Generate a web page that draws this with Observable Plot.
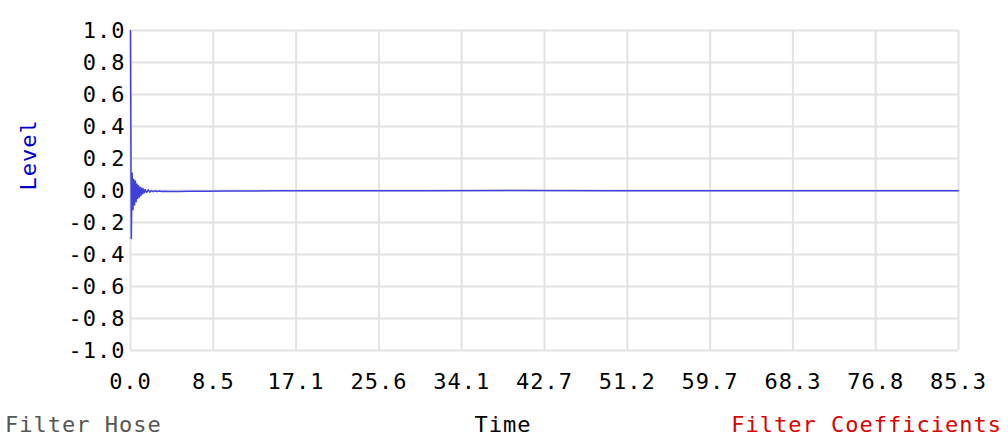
<!DOCTYPE html>
<html>
<head>
<meta charset="utf-8">
<script src="https://cdn.jsdelivr.net/npm/d3@7"></script>
<script src="https://cdn.jsdelivr.net/npm/@observablehq/plot@0.6"></script>
<style>
  html, body { margin: 0; padding: 0; background: #fff; }
  #wrap { position: relative; width: 1008px; height: 440px; }
  .cap { position: absolute; top: 412px; font-family: "DejaVu Sans Mono", monospace; font-size: 22px; letter-spacing: 1px; white-space: nowrap; }
</style>
</head>
<body>
<div id="wrap">
  <div id="chart"></div>
  <span class="cap" style="left:5px;color:#555555">Filter Hose</span>
  <span class="cap" style="left:503px;transform:translateX(-50%);color:#000">Time</span>
  <span class="cap" style="right:6px;color:#dd0000">Filter Coefficients</span>
</div>
<script>
const times = [0, 0.083, 0.167, 0.25, 0.333, 0.417, 0.5, 0.583, 0.667, 0.75, 0.833, 0.917, 1.0,
  1.083, 1.167, 1.25, 1.333, 1.417, 1.5, 1.667, 1.833, 2.0, 2.167, 2.333, 2.5,
  2.75, 3.0, 3.25, 3.5, 4.0, 4.5, 5.0, 6.0, 7.0, 8.0, 10, 15, 20, 30, 40, 50, 60, 70, 80, 85.333];
const levels = [1.0, -0.30, 0.11, -0.12, 0.07, -0.09, 0.06, -0.07, 0.04, -0.05,
  0.03, -0.04, 0.02, -0.03, 0.015, -0.02, 0.01, -0.015, 0.005, -0.012,
  0.004, -0.01, 0.0, -0.008, -0.002, -0.006, -0.003, -0.006, -0.004, -0.006,
  -0.007, -0.006, -0.005, -0.004, -0.004, -0.003, -0.002, -0.002,
  -0.001, 0, -0.001, -0.001, -0.001, -0.001, -0.001];
const xTicks = [0, 8.5333, 17.0667, 25.6, 34.1333, 42.6667, 51.2, 59.7333, 68.2667, 76.8, 85.3333];
const xTickLabels = ["0.0", "8.5", "17.1", "25.6", "34.1", "42.7", "51.2", "59.7", "68.3", "76.8", "85.3"];
const yTicks = [1.0, 0.8, 0.6, 0.4, 0.2, 0.0, -0.2, -0.4, -0.6, -0.8, -1.0];
const yTickLabels = ["1.0", "0.8", "0.6", "0.4", "0.2", "0.0", "-0.2", "-0.4", "-0.6", "-0.8", "-1.0"];
const yLabel = "Level";

const data = times.map((t, i) => ({t, v: levels[i]}));

const chart = Plot.plot({
  width: 1008,
  height: 400,
  marginLeft: 130,
  marginRight: 50,
  marginTop: 30,
  marginBottom: 50,
  style: {fontFamily: "DejaVu Sans Mono, monospace", fontSize: "22px", letterSpacing: "1px", color: "#000", background: "#fff"},
  x: {domain: [0, 85.3333], ticks: xTicks, tickFormat: (d, i) => xTickLabels[i], tickSize: 0, tickPadding: 23, label: null},
  y: {domain: [-1, 1], ticks: yTicks, tickFormat: (d, i) => yTickLabels[i], tickSize: 0, tickPadding: 5, label: null},
  marks: [
    Plot.gridX(xTicks, {stroke: "#e2e2e2", strokeOpacity: 1, strokeWidth: 2}),
    Plot.gridY(yTicks, {stroke: "#e2e2e2", strokeOpacity: 1, strokeWidth: 2}),
    Plot.axisX({ticks: xTicks, tickFormat: (d, i) => xTickLabels[i], tickSize: 0, tickPadding: 23, label: null}),
    Plot.axisY({ticks: yTicks, tickFormat: (d, i) => yTickLabels[i], tickSize: 0, tickPadding: 5, label: null}),
    Plot.line(data, {x: "t", y: "v", stroke: "#4040dd", strokeWidth: 1.5}),
    Plot.text([yLabel], {frameAnchor: "left", dx: -102, rotate: -90, text: d => d, fill: "#0000cc", fontSize: 22})
  ]
});
document.getElementById("chart").appendChild(chart);
</script>
</body>
</html>
